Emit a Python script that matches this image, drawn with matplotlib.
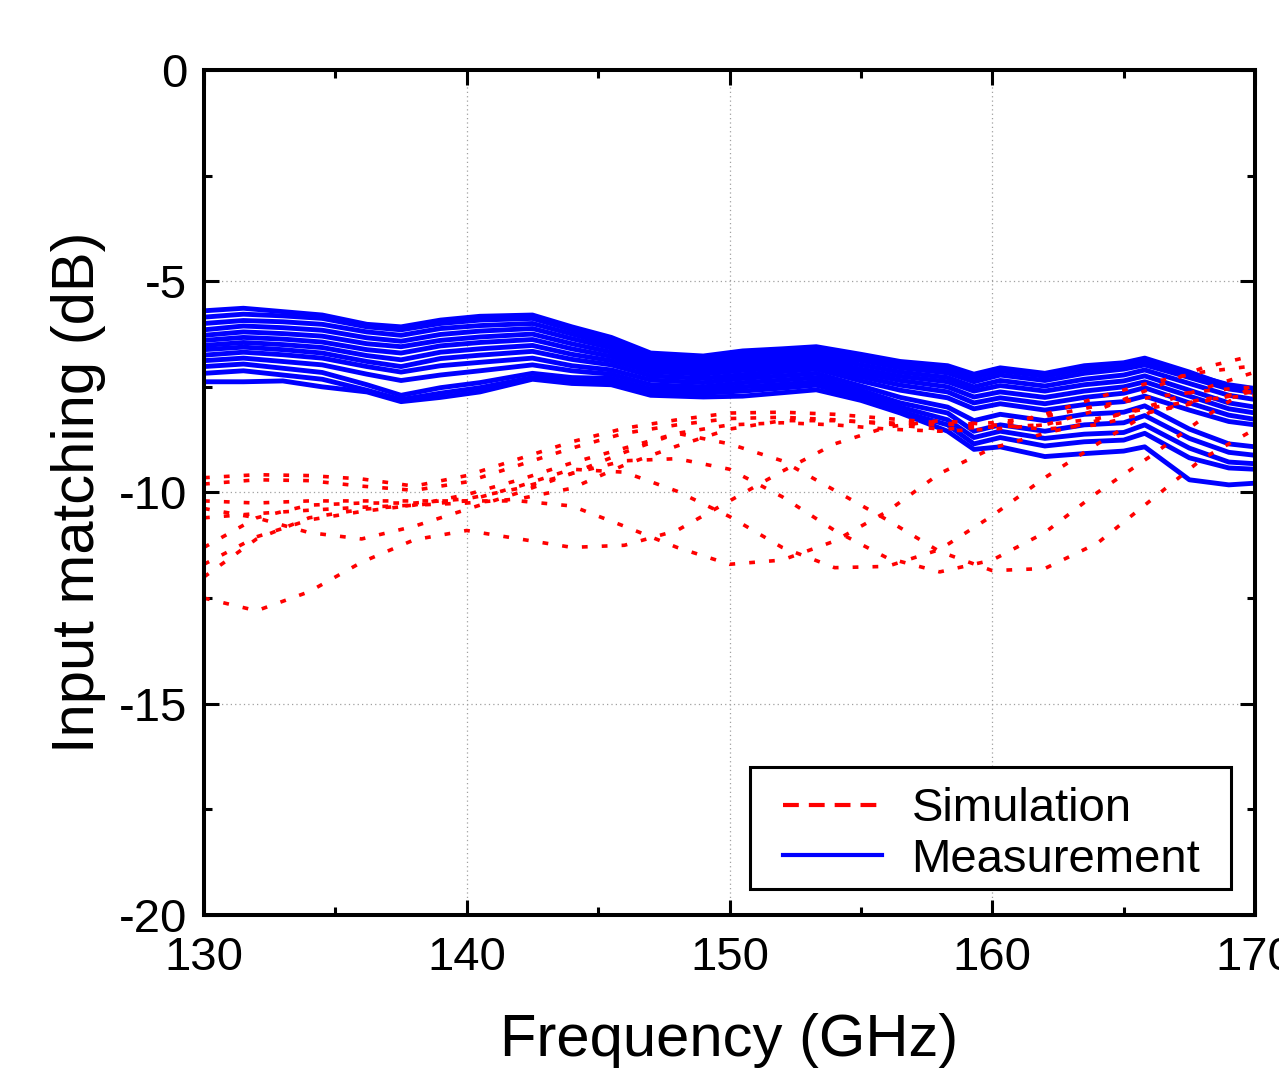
import numpy as np
import matplotlib
matplotlib.use('Agg')
import matplotlib.pyplot as plt
from matplotlib.lines import Line2D
from matplotlib.patches import Rectangle

plt.rcParams['font.family'] = ['Liberation Sans', 'DejaVu Sans']
plt.rcParams['axes.unicode_minus'] = False

# simulation, one curve per tuning state (2 GHz grid)
f_sim = [130, 132, 134, 136, 138, 140, 142, 144, 146, 148, 150,
         152, 154, 156, 158, 160, 162, 164, 166, 168, 170]
sim_1 = [-9.65, -9.58, -9.60, -9.68, -9.85, -9.60, -9.20, -8.80, -8.48, -8.28, -8.12,
         -8.10, -8.15, -8.25, -8.35, -8.45, -8.40, -8.05, -7.55, -7.05, -6.75]
sim_2 = [-9.80, -9.70, -9.72, -9.85, -9.95, -9.75, -9.35, -8.95, -8.60, -8.40, -8.25,
         -8.22, -8.28, -8.38, -8.50, -8.45, -8.15, -7.75, -7.40, -7.15, -7.00]
sim_3 = [-12.50, -12.80, -12.35, -11.65, -11.12, -10.90, -11.10, -11.30, -11.25, -10.90, -10.20,
         -9.50, -8.85, -8.45, -8.30, -8.40, -8.50, -8.40, -8.10, -7.80, -7.60]
sim_4 = [-10.38, -10.60, -10.95, -11.10, -10.80, -10.40, -10.00, -9.55, -9.05, -8.60, -8.40,
         -8.35, -8.40, -8.50, -8.55, -8.50, -8.40, -8.25, -8.00, -7.80, -7.70]
sim_5 = [-10.20, -10.25, -10.20, -10.20, -10.20, -10.20, -10.20, -10.32, -10.80, -11.30, -11.70,
         -11.60, -11.15, -10.45, -9.55, -8.95, -8.60, -8.30, -7.95, -7.55, -7.15]
sim_6 = [-10.60, -10.50, -10.42, -10.35, -10.30, -10.20, -9.85, -9.45, -9.52, -9.97, -10.57,
         -11.30, -11.78, -11.75, -11.35, -10.55, -9.65, -8.85, -8.10, -7.85, -7.60]
sim_7 = [-11.30, -10.60, -10.30, -10.25, -10.25, -10.15, -9.90, -9.55, -9.25, -9.20, -9.45,
         -10.10, -10.90, -11.55, -11.88, -11.60, -10.95, -10.00, -9.15, -8.25, -7.45]
sim_8 = [-11.70, -11.05, -10.65, -10.45, -10.30, -10.05, -9.70, -9.30, -8.95, -8.60, -8.85,
         -9.25, -9.95, -10.65, -11.40, -11.85, -11.80, -11.20, -10.20, -9.20, -8.50]
sim_9 = [-12.00, -11.10, -10.60, -10.40, -10.30, -10.25, -10.15, -9.90, -9.35, -8.90, -8.50,
         -8.30, -8.30, -8.35, -8.40, -8.35, -8.20, -7.95, -7.75, -7.60, -7.50]
sim_curves = [sim_1, sim_2, sim_3, sim_4, sim_5, sim_6, sim_7, sim_8, sim_9]

# measurement
f_meas = [130, 131.5, 133, 134.5, 136.2, 137.5, 139, 140.5, 142.5, 144, 145.5, 147, 149, 150.5,
          152, 153.3, 155, 156.5, 158.3, 159.3, 160.3, 162, 163.5, 165, 165.8, 167.5, 169, 170]
meas_1 = [-5.70, -5.64, -5.72, -5.80, -6.02, -6.08, -5.92, -5.83, -5.80, -6.08, -6.33, -6.70, -6.77, -6.65,
          -6.60, -6.55, -6.73, -6.90, -7.00, -7.20, -7.05, -7.18, -7.00, -6.93, -6.82, -7.15, -7.48, -7.58]
meas_2 = [-5.85, -5.78, -5.82, -5.88, -6.08, -6.15, -6.00, -5.92, -5.88, -6.15, -6.42, -6.76, -6.82, -6.72,
          -6.66, -6.62, -6.80, -6.97, -7.08, -7.28, -7.12, -7.25, -7.08, -7.00, -6.90, -7.20, -7.45, -7.54]
meas_3 = [-6.00, -5.93, -5.96, -6.02, -6.20, -6.28, -6.12, -6.05, -6.00, -6.25, -6.50, -6.82, -6.90, -6.80,
          -6.74, -6.70, -6.88, -7.05, -7.17, -7.38, -7.22, -7.35, -7.18, -7.08, -6.98, -7.28, -7.55, -7.64]
meas_4 = [-6.15, -6.06, -6.10, -6.16, -6.34, -6.42, -6.26, -6.18, -6.12, -6.36, -6.58, -6.90, -6.97, -6.88,
          -6.82, -6.78, -6.98, -7.15, -7.28, -7.50, -7.35, -7.48, -7.32, -7.22, -7.10, -7.42, -7.70, -7.80]
meas_5 = [-6.28, -6.20, -6.24, -6.30, -6.48, -6.55, -6.40, -6.32, -6.25, -6.48, -6.68, -6.98, -7.05, -6.96,
          -6.90, -6.86, -7.08, -7.25, -7.38, -7.60, -7.47, -7.60, -7.45, -7.36, -7.24, -7.58, -7.88, -7.98]
meas_6 = [-6.40, -6.33, -6.37, -6.44, -6.62, -6.70, -6.53, -6.45, -6.38, -6.60, -6.78, -7.05, -7.12, -7.03,
          -6.97, -6.93, -7.17, -7.35, -7.50, -7.74, -7.62, -7.75, -7.60, -7.50, -7.38, -7.72, -8.02, -8.12]
meas_7 = [-6.52, -6.45, -6.50, -6.57, -6.76, -6.86, -6.68, -6.60, -6.52, -6.73, -6.88, -7.14, -7.20, -7.11,
          -7.05, -7.00, -7.26, -7.46, -7.62, -7.88, -7.76, -7.90, -7.75, -7.65, -7.52, -7.88, -8.17, -8.27]
meas_8 = [-6.62, -6.56, -6.62, -6.70, -6.90, -7.02, -6.83, -6.75, -6.66, -6.85, -6.98, -7.24, -7.30, -7.21,
          -7.14, -7.08, -7.36, -7.58, -7.76, -8.02, -7.90, -8.05, -7.92, -7.85, -7.72, -8.05, -8.32, -8.40]
meas_9 = [-6.75, -6.68, -6.74, -6.82, -7.02, -7.15, -7.00, -6.92, -6.82, -7.00, -7.10, -7.34, -7.40, -7.30,
          -7.24, -7.18, -7.48, -7.75, -7.98, -8.30, -8.15, -8.30, -8.15, -8.10, -7.95, -8.50, -8.85, -8.92]
meas_10 = [-6.88, -6.82, -6.90, -6.98, -7.20, -7.35, -7.22, -7.12, -6.98, -7.12, -7.20, -7.45, -7.50, -7.40,
           -7.34, -7.28, -7.58, -7.88, -8.12, -8.55, -8.40, -8.55, -8.40, -8.35, -8.18, -8.72, -9.05, -9.12]
meas_11 = [-7.02, -6.96, -7.06, -7.16, -7.45, -7.70, -7.52, -7.40, -7.18, -7.28, -7.30, -7.55, -7.58, -7.50,
           -7.44, -7.38, -7.66, -7.98, -8.28, -8.70, -8.55, -8.72, -8.62, -8.58, -8.40, -8.95, -9.28, -9.32]
meas_12 = [-7.18, -7.12, -7.22, -7.32, -7.58, -7.80, -7.65, -7.52, -7.28, -7.35, -7.38, -7.62, -7.65, -7.60,
           -7.53, -7.46, -7.75, -8.08, -8.40, -8.85, -8.70, -8.90, -8.80, -8.76, -8.60, -9.18, -9.42, -9.45]
meas_13 = [-7.38, -7.38, -7.36, -7.50, -7.62, -7.85, -7.75, -7.62, -7.32, -7.42, -7.45, -7.70, -7.74, -7.72,
           -7.64, -7.57, -7.82, -8.12, -8.55, -8.98, -8.92, -9.15, -9.08, -9.02, -8.92, -9.70, -9.82, -9.78]
meas_curves = [meas_1, meas_2, meas_3, meas_4, meas_5, meas_6, meas_7, meas_8, meas_9,
               meas_10, meas_11, meas_12, meas_13]

fig = plt.figure(figsize=(12.79, 10.70), dpi=100)
ax = fig.add_axes([0.1595, 0.1449, 0.8218, 0.7897])

for m in meas_curves:
    ax.plot(f_meas, m, color='#0000ff', lw=3.5, solid_joinstyle='round')
for s in sim_curves:
    ax.plot(f_sim, s, color='#ff0000', lw=2.6, linestyle=(0, (1.6, 3.9)))

ax.set_xlim(130, 170)
ax.set_ylim(-20, 0)
ax.set_xticks([130, 140, 150, 160, 170])
ax.set_xticks([135, 145, 155, 165], minor=True)
ax.set_yticks([0, -5, -10, -15, -20])
ax.set_yticks([-2.5, -7.5, -12.5, -17.5], minor=True)
ax.grid(True, which='major', color='#a0a0a0', linestyle=(0, (1, 2.5)), linewidth=0.9)

ax.tick_params(which='both', direction='in', top=True, right=True, width=2.2, labelsize=34)
ax.tick_params(which='major', length=10.5)
ax.tick_params(which='minor', length=5.5)
ax.tick_params(axis='x', pad=15)
ax.tick_params(axis='y', pad=12)
for sp in ax.spines.values():
    sp.set_linewidth(2.9)

ax.set_xlabel('Frequency (GHz)', fontsize=43, labelpad=24)
ax.set_ylabel('Input matching (dB)', fontsize=43, labelpad=9)

# legend box
ax.add_patch(Rectangle((0.5195, 0.0308), 0.4577, 0.1443, transform=ax.transAxes,
                       facecolor='white', edgecolor='black', lw=2.2, zorder=5))
handles = [Line2D([], [], color='#ff0000', lw=3, linestyle=(0, (3.8, 2.4))),
           Line2D([], [], color='#0000ff', lw=3)]
leg = ax.legend(handles, ['Simulation', 'Measurement'], loc='upper left',
                bbox_to_anchor=(0.551, 0.151), frameon=False, fontsize=34,
                handlelength=2.1, handletextpad=0.62, labelspacing=0.13,
                borderpad=0, borderaxespad=0)
leg.set_zorder(6)

fig.savefig('out.png', dpi=100)
